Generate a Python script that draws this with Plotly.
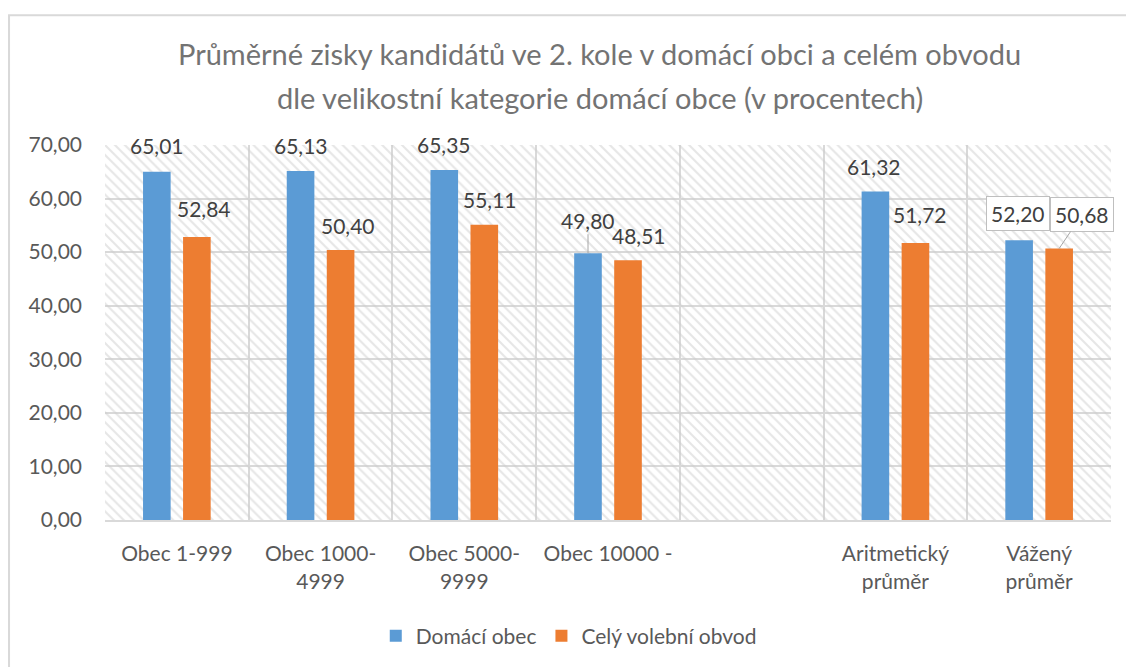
import plotly.graph_objects as go

# Categories of the home municipality (the blank slot separates the averages)
categories = ["Obec 1-999", "Obec 1000-<br>4999", "Obec 5000-<br>9999",
              "Obec 10000 -", " ", "Aritmetický<br>průměr", "Vážený<br>průměr"]
domaci_obec = [65.01, 65.13, 65.35, 49.80, None, 61.32, 52.20]
cely_obvod = [52.84, 50.40, 55.11, 48.51, None, 51.72, 50.68]
y_ticks = [0, 10, 20, 30, 40, 50, 60, 70]

series_names = ["Domácí obec", "Celý volební obvod"]
colors = ["#5B9BD5", "#ED7D31"]

FONT = "Lato"
TEXT_GRAY = "#595959"
LABEL_GRAY = "#404040"
GRID = "#D9D9D9"

# label placement per bar: (horizontal nudge px, lift above bar top px, style)
blue_label_pos = [(0, 26, ""), (0, 26, ""), (0, 25, ""), (0, 33, "leader"),
                  None, (-1, 25, ""), (-1, 27, "box")]
orange_label_pos = [(7, 28, ""), (7, 25, ""), (6, 25, ""), (11, 25, ""),
                    None, (5, 28, ""), (23, 34, "box-leader")]

fig = go.Figure()

# hatched plot-area background on the base axes
fig.add_trace(go.Bar(
    x=[0.5], y=[1], width=[1], xaxis="x", yaxis="y",
    marker=dict(color="rgba(0,0,0,0)", line=dict(width=0),
                pattern=dict(shape="\\", fgcolor="#CDCDCD", size=7,
                             solidity=0.3, fillmode="overlay")),
    showlegend=False, hoverinfo="skip"))

for name, vals, col in zip(series_names, [domaci_obec, cely_obvod], colors):
    fig.add_trace(go.Bar(
        x=categories, y=vals, name=name, xaxis="x2", yaxis="y2",
        marker=dict(color=col, line=dict(width=0))))

def fmt(v):
    return f"{v:.2f}".replace(".", ",")

annotations = []
for vals, positions, side in [(domaci_obec, blue_label_pos, -20),
                              (cely_obvod, orange_label_pos, 20)]:
    for cat, v, pos in zip(categories, vals, positions):
        if v is None or pos is None:
            continue
        dx, lift, style = pos
        common = dict(x=cat, y=v, xref="x2", yref="y2", text=fmt(v),
                      font=dict(family=FONT, size=21, color=LABEL_GRAY))
        if style in ("leader", "box-leader"):
            ann = dict(common, xshift=side, showarrow=True, arrowhead=0,
                       arrowwidth=1, arrowcolor="#A6A6A6", standoff=0,
                       ax=dx, ay=-lift, axref="pixel", ayref="pixel")
        else:
            ann = dict(common, xshift=side + dx, yshift=lift,
                       yanchor="middle", showarrow=False)
        if style.startswith("box"):
            ann.update(bgcolor="white", bordercolor="#BFBFBF",
                       borderwidth=1, borderpad=4)
        annotations.append(ann)

# two-line chart title
TITLE_FONT = dict(family=FONT, size=29, color="#737373")
annotations.append(dict(
    x=0.492, y=1.245, xref="paper", yref="paper", yanchor="middle",
    showarrow=False,
    text="Průměrné zisky kandidátů ve 2. kole v domácí obci a celém obvodu",
    font=TITLE_FONT))
annotations.append(dict(
    x=0.492, y=1.127, xref="paper", yref="paper", yanchor="middle",
    showarrow=False,
    text="dle velikostní kategorie domácí obce (v procentech)",
    font=TITLE_FONT))

fig.update_layout(
    width=1126, height=667,
    margin=dict(l=105, r=15, t=145, b=146),
    paper_bgcolor="white", plot_bgcolor="white",
    separators=", ",
    barmode="group", bargap=0.443, bargroupgap=0.31,
    xaxis=dict(range=[0, 1], visible=False, showgrid=False, fixedrange=True),
    yaxis=dict(range=[0, 1], visible=False, showgrid=False, fixedrange=True),
    xaxis2=dict(overlaying="x", type="category", categoryorder="array",
                categoryarray=categories, range=[-0.5, len(categories) - 0.5],
                tickson="boundaries", showgrid=True, gridcolor=GRID,
                gridwidth=1.5, showline=True, linecolor=GRID, linewidth=2,
                ticks="", ticklabelstandoff=14,
                tickfont=dict(family=FONT, size=21, color=TEXT_GRAY)),
    yaxis2=dict(overlaying="y", range=[0, 70], tickvals=y_ticks,
                tickformat=".2f", showgrid=True, gridcolor=GRID,
                gridwidth=1.5, zeroline=False, showline=False, ticks="",
                ticklabelstandoff=22,
                tickfont=dict(family=FONT, size=21, color=TEXT_GRAY)),
    legend=dict(orientation="h", x=0.461, xanchor="center", y=-0.306,
                yanchor="middle", font=dict(family=FONT, size=21,
                                            color=TEXT_GRAY),
                itemwidth=30),
    annotations=annotations,
    shapes=[dict(type="rect", xref="paper", yref="paper",
                 x0=-0.0954, x1=1.2, y0=-0.6, y1=1.3457,
                 line=dict(color=GRID, width=2), fillcolor="rgba(0,0,0,0)",
                 layer="below")],
)

fig.write_html("out.html")
